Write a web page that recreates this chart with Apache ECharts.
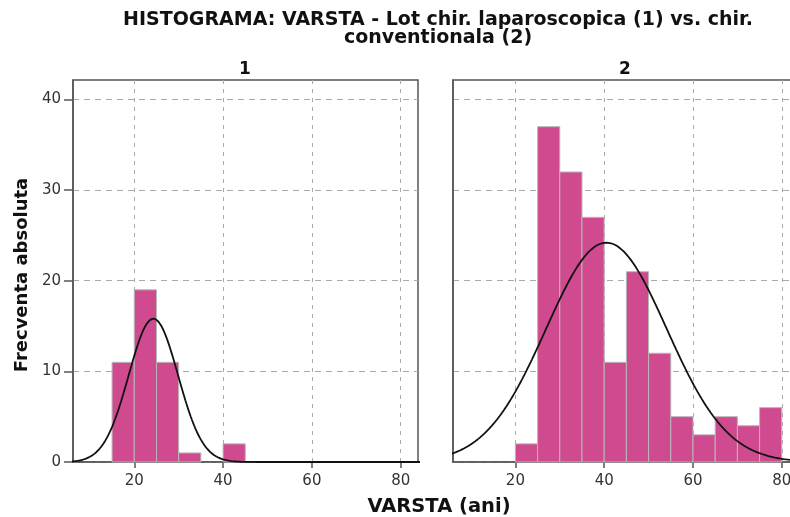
<!DOCTYPE html>
<html><head><meta charset="utf-8">
<script src="https://cdn.jsdelivr.net/npm/echarts@6/dist/echarts.min.js"></script>
<style>html,body{margin:0;padding:0;background:#fff}#c{width:790px;height:517px}</style>
</head><body><div id="c"></div>
<script>
// ---- data ----
const binWidth = 5;
const binStarts1 = [15, 20, 25, 30, 40];
const counts1 = [11, 19, 11, 1, 2];
const binStarts2 = [20, 25, 30, 35, 40, 45, 50, 55, 60, 65, 70, 75];
const counts2 = [2, 37, 32, 27, 11, 21, 12, 5, 3, 5, 4, 6];
// fitted normal overlay parameters (mean, sd, n)
const normalMean = [24.3, 40.5];
const normalSd = [5.55, 13.6];
const normalN = [44, 165];
const xTicks = [20, 40, 60, 80];
const yTicks = [0, 10, 20, 30, 40];
const panelLabels = ['1', '2'];
const titleText = 'HISTOGRAMA: VARSTA - Lot chir. laparoscopica (1) vs. chir.\nconventionala (2)';
const xName = 'VARSTA (ani)';
const yName = 'Frecventa absoluta';

const FONT = '"DejaVu Sans", "Liberation Sans", Arial, sans-serif';
const BAR = '#cf4a8e';
const AX = '#555';

function normalCurve(k) {
  const pts = [];
  const m = normalMean[k], s = normalSd[k], n = normalN[k];
  for (let x = 4; x <= 86; x += 0.25) {
    const z = (x - m) / s;
    pts.push([x, n * binWidth * Math.exp(-0.5 * z * z) / (s * Math.sqrt(2 * Math.PI))]);
  }
  return pts;
}
function barData(starts, counts) {
  return starts.map((s, i) => [s, s + binWidth, counts[i]]);
}
function renderBar(params, api) {
  const p0 = api.coord([api.value(0), api.value(2)]);
  const p1 = api.coord([api.value(1), 0]);
  return {
    type: 'rect',
    shape: { x: p0[0], y: p0[1], width: p1[0] - p0[0], height: p1[1] - p0[1] },
    style: { fill: BAR, stroke: '#b8b8b8', lineWidth: 1 }
  };
}

const grids = [
  { left: 73, top: 80, width: 345, height: 382 },
  { left: 453, top: 80, width: 345, height: 382 }
].map(g => Object.assign(g, { show: true, borderColor: AX, borderWidth: 1.5, backgroundColor: 'transparent', containLabel: false, outerBoundsMode: 'none' }));

const xMins = [6.2, 5.95];
const xAxes = [0, 1].map(k => ({
  type: 'value', gridIndex: k, min: xMins[k], max: xMins[k] + 77.7,
  axisLine: { show: true, onZero: false, lineStyle: { color: AX, width: 1.5 } },
  axisTick: { show: true, customValues: xTicks, length: 6, lineStyle: { color: AX, width: 1.5 } },
  axisLabel: { customValues: xTicks, margin: 12, color: '#333', fontFamily: FONT, fontSize: 15 },
  splitLine: { show: true, lineStyle: { color: '#aaa', type: [4, 5], width: 1 } }
}));
const yAxes = [0, 1].map(k => ({
  type: 'value', gridIndex: k, min: 0, max: 42.15,
  axisLine: { show: true, lineStyle: { color: AX, width: 1.5 } },
  axisTick: { show: k === 0, customValues: yTicks, length: 9, lineStyle: { color: AX, width: 1.5 } },
  axisLabel: { show: k === 0, customValues: yTicks, margin: 12, color: '#333', fontFamily: FONT, fontSize: 15 },
  splitLine: { show: true, lineStyle: { color: '#aaa', type: [6, 5], width: 1 } }
}));

const series = [];
[[binStarts1, counts1], [binStarts2, counts2]].forEach((d, k) => {
  series.push({
    type: 'custom', xAxisIndex: k, yAxisIndex: k, renderItem: renderBar,
    encode: { x: [0, 1], y: 2 }, data: barData(d[0], d[1]), z: 2, silent: true
  });
  series.push({
    type: 'line', xAxisIndex: k, yAxisIndex: k, data: normalCurve(k), showSymbol: false,
    symbol: 'none', clip: true, z: 3, silent: true,
    lineStyle: { color: '#111', width: 1.8 }
  });
});

const chart = echarts.init(document.getElementById('c'), null, { renderer: 'canvas' });
chart.setOption({
  animation: false,
  backgroundColor: '#fff',
  grid: grids,
  xAxis: xAxes,
  yAxis: yAxes,
  series: series,
  graphic: [
    { type: 'text', x: 438, y: 11, style: { text: titleText, fontFamily: FONT, fontWeight: 'bold', fontSize: 19, lineHeight: 18, align: 'center', verticalAlign: 'top', fill: '#111' } },
    { type: 'text', x: 245, y: 70, style: { text: panelLabels[0], fontFamily: FONT, fontWeight: 'bold', fontSize: 17, align: 'center', verticalAlign: 'middle', fill: '#111' } },
    { type: 'text', x: 625, y: 70, style: { text: panelLabels[1], fontFamily: FONT, fontWeight: 'bold', fontSize: 17, align: 'center', verticalAlign: 'middle', fill: '#111' } },
    { type: 'text', x: 22, y: 275, rotation: Math.PI / 2, style: { text: yName, fontFamily: FONT, fontWeight: 'bold', fontSize: 18, align: 'center', verticalAlign: 'middle', fill: '#111' } },
    { type: 'text', x: 439, y: 507, style: { text: xName, fontFamily: FONT, fontWeight: 'bold', fontSize: 19.5, align: 'center', verticalAlign: 'middle', fill: '#111' } }
  ]
});
</script>
</body></html>
